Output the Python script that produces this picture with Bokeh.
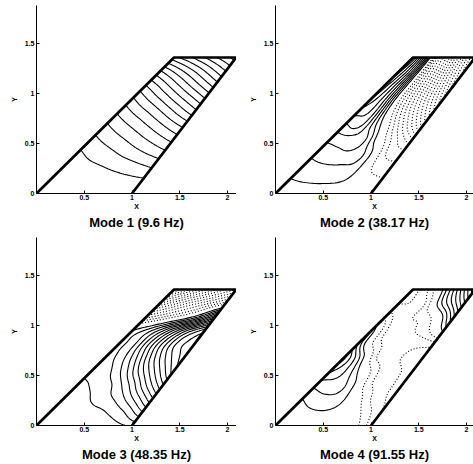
import numpy as np
from bokeh.plotting import figure
from bokeh.layouts import gridplot
from bokeh.models import Range1d, FixedTicker
from bokeh.embed import file_html
from bokeh.resources import INLINE

# wing planform (data units)
span = 1.36
root_le, root_te = 0.0, 1.0
tip_le, tip_te = 1.44, 2.09
wing_x = [root_le, tip_le, tip_te, root_te]
wing_y = [0.0, span, span, 0.0]

# structured mesh stations: span fraction (rows) and chord fraction (columns)
eta = [0.0, 0.1, 0.2, 0.3, 0.4, 0.5, 0.6, 0.7, 0.8, 0.9, 1.0]
xi = [0.0, 0.2, 0.4, 0.6, 0.8, 1.0]

# nodal mode-shape values (in contour-interval units)
mode1 = [
    [0.0, 0.0, 0.0, 0.0, 0.0, 0.0],
    [0.15, 0.27, 0.39, 0.52, 0.68, 0.85],
    [0.45, 0.7, 0.95, 1.3, 1.7, 2.15],
    [0.85, 1.35, 1.85, 2.45, 3.05, 3.7],
    [1.7, 2.35, 3.0, 3.75, 4.55, 5.4],
    [2.8, 3.6, 4.4, 5.3, 6.3, 7.3],
    [4.2, 5.15, 6.1, 7.2, 8.4, 9.6],
    [5.9, 7.05, 8.2, 9.45, 10.7, 12.0],
    [8.1, 9.3, 10.6, 11.9, 13.2, 14.5],
    [10.9, 12.1, 13.3, 14.5, 15.75, 17.0],
    [14.6, 15.55, 16.5, 17.5, 18.5, 19.5],
]
mode2 = [
    [0.0, 0.0, 0.0, 0.0, 0.0, 0.0],
    [0.92, 1.2, 1.3, 1.05, -0.4, -0.9],
    [1.6, 1.85, 1.9, 1.6, -1.2, -1.8],
    [2.3, 2.7, 2.8, 1.6, -1.9, -2.7],
    [3.3, 3.6, 3.4, 0.0, -2.8, -5.0],
    [4.8, 5.2, 2.0, -1.5, -5.0, -8.5],
    [6.5, 5.5, 0.5, -3.5, -7.2, -11.0],
    [8.0, 5.0, -0.8, -5.0, -9.0, -13.0],
    [8.8, 4.8, -1.5, -6.0, -10.2, -14.5],
    [9.6, 5.0, -2.5, -7.0, -11.5, -15.5],
    [10.5, 4.5, -4.0, -8.2, -12.4, -16.5],
]
mode3 = [
    [0.0, 0.1, 0.2, 0.35, 0.6, 1.2],
    [0.1, 0.3, 0.6, 1.0, 2.0, 4.0],
    [0.3, 0.7, 1.4, 2.3, 4.3, 7.0],
    [0.7, 1.2, 2.0, 4.0, 7.0, 10.0],
    [1.3, 1.75, 3.5, 6.5, 9.5, 12.5],
    [1.5, 2.5, 5.0, 8.5, 11.5, 13.6],
    [1.6, 2.8, 6.0, 9.5, 12.5, 13.6],
    [1.0, 2.3, 4.5, 7.5, 10.5, 12.5],
    [-3.5, -2.4, -1.2, 0.2, 2.5, 6.0],
    [-8.0, -6.6, -5.2, -4.0, -2.8, -1.5],
    [-13.0, -11.5, -10.0, -8.7, -7.3, -6.0],
]
mode4 = [
    [0.0, 0.2, 0.4, 0.4, -0.3, -2.6],
    [0.3, 0.8, 0.9, 0.4, -1.2, -3.0],
    [1.05, 1.7, 1.6, -0.3, -2.3, -3.3],
    [2.4, 2.6, 1.5, -1.6, -2.6, -3.4],
    [4.2, 2.8, 0.1, -2.1, -2.8, -3.4],
    [5.3, 1.9, -1.9, -2.6, -3.2, -3.6],
    [2.9, -1.1, -2.3, -2.5, -2.7, -2.5],
    [1.8, -1.9, -2.3, -2.0, -1.0, 1.3],
    [-1.2, -2.5, -2.0, -1.4, 0.5, 4.0],
    [-3.1, -2.9, -2.0, 1.3, 4.0, 7.0],
    [-3.4, -2.5, -0.2, 3.0, 6.5, 10.0],
]

titles = ["Mode 1 (9.6 Hz)", "Mode 2 (38.17 Hz)", "Mode 3 (48.35 Hz)", "Mode 4 (91.55 Hz)"]
x_ticks = [0.5, 1, 1.5, 2]
x_tick_labels = ["0.5", "1", "1.5", "2"]
y_ticks = [0, 0.5, 1, 1.5]
y_tick_labels = ["0", "0.5", "1", "1.5"]

FONT = "Liberation Sans"
SUB = 8  # contour smoothing subdivisions per mesh cell


def smooth(v, n):
    """Catmull-Rom subdivision of a 1-D sequence of nodal values (display smoothing)."""
    v = np.asarray(v, dtype=float)
    p = np.concatenate([[2 * v[0] - v[1]], v, [2 * v[-1] - v[-2]]])
    t = np.arange(n) / n
    out = []
    for i in range(len(v) - 1):
        p0, p1, p2, p3 = p[i], p[i + 1], p[i + 2], p[i + 3]
        out.append(0.5 * (2 * p1 + (-p0 + p2) * t + (2 * p0 - 5 * p1 + 4 * p2 - p3) * t ** 2
                          + (-p0 + 3 * p1 - 3 * p2 + p3) * t ** 3))
    out.append([v[-1]])
    return np.concatenate(out)


def smooth2d(z):
    z = np.asarray(z, dtype=float)
    z = np.apply_along_axis(smooth, 1, z, SUB)
    z = np.apply_along_axis(smooth, 0, z, SUB)
    return z


eta_f = smooth(eta, SUB)
xi_f = smooth(xi, SUB)
E, XI = np.meshgrid(eta_f, xi_f, indexing="ij")
Y = E * span
X = root_le + E * (tip_le - root_le) + XI * ((root_te - root_le) + E * ((tip_te - tip_le) - (root_te - root_le)))


def make(z, title, left, title_offset):
    zf = smooth2d(z)
    p = figure(width=236 if left else 237, height=232,
               x_range=Range1d(0, 2.094 if left else 2.073), y_range=Range1d(0, 1.88),
               output_backend="svg", toolbar_location=None,
               min_border_left=36 if left else 39, min_border_right=0,
               min_border_top=5, min_border_bottom=39,
               title=title, title_location="below")
    p.outline_line_color = None
    p.xgrid.visible = False
    p.ygrid.visible = False
    p.background_fill_color = "white"
    p.border_fill_color = "white"

    zmax, zmin = float(np.max(z)), float(np.min(z))
    pos = [float(v) for v in np.arange(1, np.floor(zmax) + 1)]
    neg = [float(v) for v in -np.arange(np.floor(-zmin), 0, -1)] if zmin <= -1 else []
    if pos:
        p.contour(X, Y, zf, levels=pos, line_color="black", line_width=1.1)
    if neg:
        p.contour(X, Y, zf, levels=neg, line_color="black", line_width=1.1, line_dash="1 2")

    p.line(wing_x, wing_y, line_color="black", line_width=2.7)

    for ax, ticks, labels, name in ((p.xaxis[0], x_ticks, x_tick_labels, "X"),
                                    (p.yaxis[0], y_ticks, y_tick_labels, "Y")):
        ax.ticker = FixedTicker(ticks=ticks)
        ax.major_label_overrides = {t: l for t, l in zip(ticks, labels)}
        ax.axis_label = name
        ax.axis_label_text_font = FONT
        ax.axis_label_text_font_size = "7px"
        ax.axis_label_text_font_style = "bold"
        ax.axis_label_text_color = "black"
        ax.axis_label_standoff = 0
        ax.major_label_text_font = FONT
        ax.major_label_text_font_size = "7px"
        ax.major_label_text_font_style = "bold"
        ax.major_label_text_color = "black"
        ax.major_label_standoff = 2
        ax.major_tick_in = 3
        ax.major_tick_out = 0
        ax.minor_tick_in = 0
        ax.minor_tick_out = 0
        ax.axis_line_color = "black"
        ax.axis_line_width = 1
        ax.major_tick_line_color = "black"
    p.xaxis[0].major_label_standoff = 1
    p.yaxis[0].axis_label_standoff = 4

    p.title.text_font = FONT
    p.title.text_font_size = "13px"
    p.title.text_font_style = "bold"
    p.title.text_color = "black"
    p.title.align = "center"
    p.title.standoff = 0
    p.title.offset = title_offset
    return p


offsets = [-3, 2, 1, 2]
figs = [make(m, t, i % 2 == 0, off)
        for i, (m, t, off) in enumerate(zip([mode1, mode2, mode3, mode4], titles, offsets))]
grid = gridplot([[figs[0], figs[1]], [figs[2], figs[3]]], toolbar_location=None)

open("out.html", "w").write(file_html(grid, INLINE))
